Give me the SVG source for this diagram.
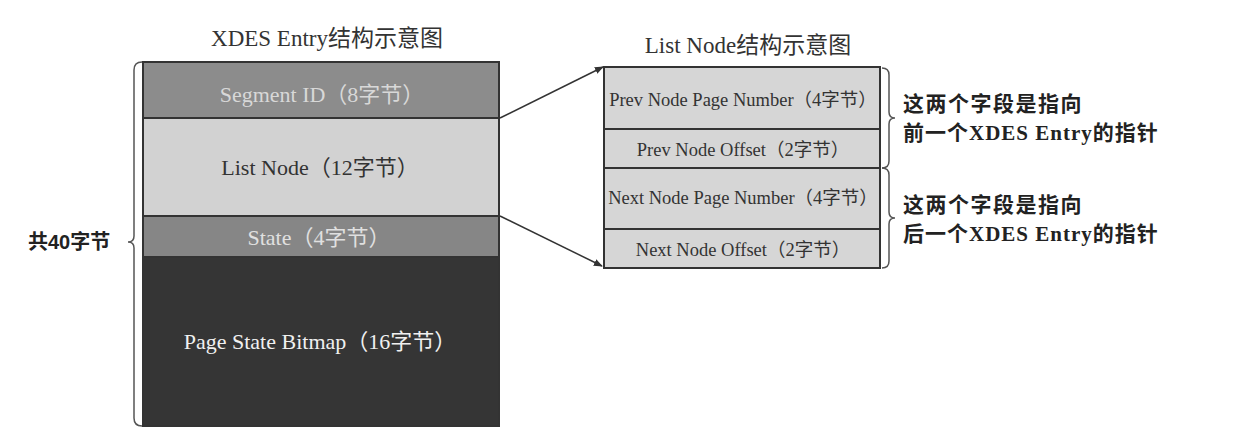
<svg xmlns="http://www.w3.org/2000/svg" width="1242" height="432" viewBox="0 0 1242 432">
<style>
.t{font-family:"Liberation Serif","Noto Sans CJK SC",serif;text-anchor:middle}
.title{font-size:23px;fill:#333}
.lab{font-size:22px}
.rl{font-size:18.5px;fill:#333}
.ann{font-family:"Liberation Serif","Noto Sans CJK SC",serif;font-weight:bold;font-size:21px;fill:#222;letter-spacing:1.5px}
.box{stroke:#333;stroke-width:2}
.brace{fill:none;stroke:#555;stroke-width:1.5}
.conn{stroke:#333;stroke-width:1.5;fill:none}
</style>
<defs>
<marker id="ah" viewBox="0 0 10 10" refX="9" refY="5" markerWidth="9" markerHeight="9" markerUnits="userSpaceOnUse" orient="auto">
<path d="M0,1 L10,5 L0,9 Z" fill="#333"/>
</marker>
</defs>
<rect width="1242" height="432" fill="#fff"/>
<text class="t title" x="327" y="46">XDES Entry结构示意图</text>
<text class="t title" x="748" y="53">List Node结构示意图</text>

<g id="xdes-entry">
<g id="segment-id">
<rect class="box" x="143" y="62" width="356" height="56" fill="#8c8c8c"/>
<text class="t lab" x="322" y="102" fill="#d8d8d8">Segment ID（8字节）</text>
</g>
<g id="list-node">
<rect class="box" x="143" y="118" width="356" height="98" fill="#d2d2d2"/>
<text class="t lab" x="320" y="175" fill="#333">List Node（12字节）</text>
</g>
<g id="state">
<rect class="box" x="143" y="216" width="356" height="41" fill="#868686"/>
<text class="t lab" x="319" y="245" fill="#e0e0e0">State（4字节）</text>
</g>
<g id="bitmap">
<rect class="box" x="143" y="257" width="356" height="169" fill="#353535"/>
<text class="t lab" x="320" y="349" fill="#f0f0f0">Page State Bitmap（16字节）</text>
</g>
</g>

<g id="total-brace">
<path class="brace" d="M142,62 Q134,62 134,70 L134,236 Q134,242 128,242 Q134,242 134,248 L134,418 Q134,426 142,426"/>
<text class="ann" x="28" y="249" style="font-family:'Liberation Sans','Noto Sans CJK SC',sans-serif;letter-spacing:0;font-size:20px">共40字节</text>
</g>

<g id="list-node-detail">
<g id="prev-page">
<rect class="box" x="604" y="67" width="276" height="62" fill="#d6d6d6"/>
<text class="t rl" x="743" y="106">Prev Node Page Number（4字节）</text>
</g>
<g id="prev-offset">
<rect class="box" x="604" y="129" width="276" height="39" fill="#d6d6d6"/>
<text class="t rl" x="743" y="156">Prev Node Offset（2字节）</text>
</g>
<g id="next-page">
<rect class="box" x="604" y="168" width="276" height="61" fill="#d6d6d6"/>
<text class="t rl" x="743" y="204">Next Node Page Number（4字节）</text>
</g>
<g id="next-offset">
<rect class="box" x="604" y="229" width="276" height="39" fill="#d6d6d6"/>
<text class="t rl" x="743" y="256">Next Node Offset（2字节）</text>
</g>
</g>

<g id="prev-note">
<path class="brace" d="M882,68 Q889,68 889,75 L889,112 Q889,118 895,118 Q889,118 889,124 L889,161 Q889,168 882,168"/>
<text class="ann" x="903" y="111">这两个字段是指向</text>
<text class="ann" x="903" y="140" style="letter-spacing:1px">前一个XDES Entry的指针</text>
</g>
<g id="next-note">
<path class="brace" d="M882,168 Q889,168 889,175 L889,212 Q889,218 895,218 Q889,218 889,224 L889,261 Q889,268 882,268"/>
<text class="ann" x="903" y="212">这两个字段是指向</text>
<text class="ann" x="903" y="241" style="letter-spacing:1px">后一个XDES Entry的指针</text>
</g>

<g id="connectors">
<line class="conn" x1="500" y1="118" x2="603" y2="67" marker-end="url(#ah)"/>
<line class="conn" x1="500" y1="216" x2="602" y2="266" marker-end="url(#ah)"/>
</g>
</svg>
